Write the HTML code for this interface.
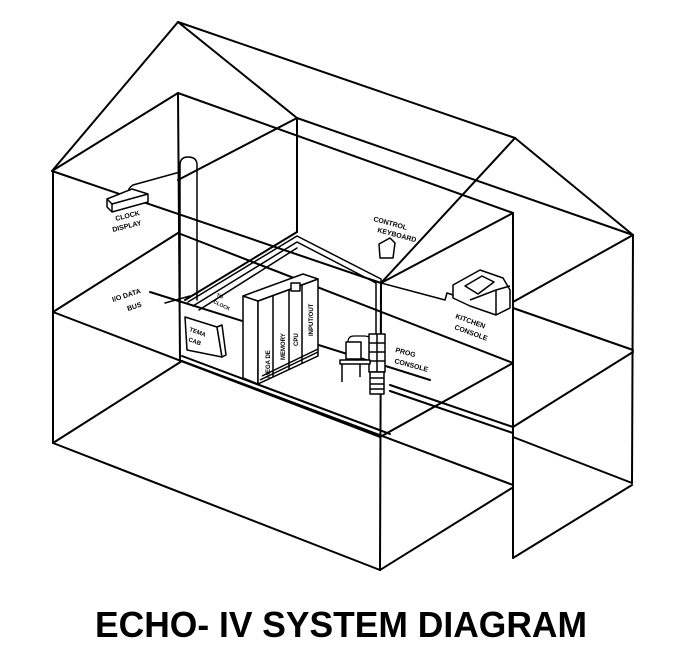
<!DOCTYPE html>
<html><head><meta charset="utf-8"><style>
html,body{margin:0;padding:0;background:#fff;}
svg{display:block;}
.h{font-family:"Liberation Sans",sans-serif;font-size:7px;font-weight:bold;fill:#000;}
</style></head><body>
<svg width="675" height="665" viewBox="0 0 675 665" xmlns="http://www.w3.org/2000/svg">
<g stroke="#000" stroke-width="2" fill="none" stroke-linecap="round" stroke-linejoin="round">
<!-- roof -->
<line x1="178" y1="22" x2="52" y2="171"/>
<line x1="178" y1="22" x2="297" y2="118"/>
<line x1="178" y1="22" x2="515" y2="138"/>
<line x1="515" y1="138" x2="633" y2="235"/>
<line x1="515" y1="138" x2="381" y2="283"/>
<line x1="52" y1="171" x2="381" y2="283"/>
<line x1="297" y1="118" x2="633" y2="235"/>
<line x1="52" y1="171" x2="178" y2="93"/>
<line x1="178" y1="93" x2="513" y2="213"/>
<line x1="513" y1="213" x2="381" y2="283"/>
<line x1="633" y1="235" x2="513" y2="302"/>
<line x1="297" y1="118" x2="178" y2="180"/>
<!-- verticals -->
<line x1="53" y1="171" x2="53" y2="443"/>
<line x1="178" y1="93" x2="180" y2="361"/>
<line x1="297" y1="118" x2="297" y2="232"/>
<line x1="381" y1="283" x2="380" y2="570"/>
<line x1="513" y1="213" x2="513" y2="558"/>
<line x1="633" y1="235" x2="632" y2="483"/>
<!-- mid floor -->
<line x1="53" y1="312" x2="380" y2="437"/>
<line x1="53" y1="312" x2="178" y2="233"/>
<line x1="178" y1="233" x2="513" y2="363"/>
<line x1="380" y1="437" x2="513" y2="363"/>
<line x1="513" y1="308" x2="633" y2="350"/>
<line x1="513" y1="427" x2="633" y2="352"/>
<line x1="390" y1="385" x2="513" y2="427"/>
<line x1="390" y1="391" x2="513" y2="433"/>
<!-- bottom -->
<line x1="53" y1="443" x2="182" y2="361"/>
<line x1="53" y1="443" x2="380" y2="570"/>
<line x1="182" y1="361" x2="513" y2="485"/>
<line x1="182" y1="356" x2="390" y2="434"/>
<line x1="380" y1="570" x2="512" y2="488"/>
<line x1="513" y1="437" x2="632" y2="483"/>
<line x1="513" y1="558" x2="632" y2="485"/>
<!-- room -->
<line x1="297" y1="232" x2="185" y2="300"/>
<line x1="150" y1="292" x2="430" y2="380"/>
<!-- ducts -->
<path d="M188 302 L297 236 L381 279 L381 345" stroke-width="1.5"/>
<path d="M193 306 L297 242 L376 283 L376 345" stroke-width="1.5"/>
<path d="M199 310 L297 248" stroke-width="1.5"/>
<path d="M180 300 L180 165 Q180 157 188 157 Q197 157 197 165 L197 300" stroke-width="1.5"/>
<path d="M180 172 L133 185 Q128 188 128 193" stroke-width="1.5"/>
<path d="M381 283 L445 300 L447 293 L456 296" stroke-width="1.5"/>
<path d="M165 303 L190 296" stroke-width="1.5"/>
<path d="M372 343 Q372 336 364 336 L354 336 Q348 336 348 342" stroke-width="1.2"/>
</g>
<g stroke="#000" stroke-width="1.5" fill="#fff" stroke-linejoin="round">
<!-- clock display -->
<polygon points="107,199 132,189 148,194 148,202 112,212 107,207"/>
<line x1="107" y1="199" x2="112" y2="204"/><line x1="112" y1="204" x2="112" y2="212"/><line x1="112" y1="204" x2="148" y2="194"/>
<!-- TTY cab -->
<polygon points="185,317 217,327 222,357 187,350"/>
<polygon points="217,327 222,325 226,355 222,357"/>
<!-- cabinets -->
<polygon points="243,296 258,301 258,384 243,378"/>
<polygon points="258,301 318,279 318,356 258,384"/>
<polygon points="243,296 303,274 318,279 258,301"/>
<line x1="273" y1="296" x2="273" y2="377"/>
<line x1="289" y1="290" x2="289" y2="370"/>
<line x1="302" y1="285" x2="302" y2="363"/>
<line x1="260" y1="380" x2="318" y2="352"/>
<line x1="262" y1="376" x2="318" y2="349"/>
<rect x="291" y="283" width="9" height="8"/>
<!-- keyboard -->
<polygon points="379,244 390,238 395,243 393,258 380,258"/>
<!-- kitchen console -->
<polygon points="453,285 480,270 503,278 510,290 510,308 496,315 470,306 453,298"/>
<polygon points="465,286 482,276 494,282 478,294"/>
<line x1="470" y1="300" x2="496" y2="290"/><line x1="496" y1="290" x2="496" y2="315"/><line x1="496" y1="290" x2="510" y2="286"/>
<!-- prog console -->
<rect x="346" y="342" width="15" height="17"/>
<rect x="369" y="334" width="16" height="38"/>
<line x1="369" y1="343" x2="385" y2="343"/><line x1="369" y1="352" x2="385" y2="352"/><line x1="369" y1="361" x2="385" y2="361"/><line x1="377" y1="334" x2="377" y2="372"/>
<polygon points="340,360 370,360 370,364 340,364"/>
<line x1="342" y1="364" x2="342" y2="382"/><line x1="360" y1="364" x2="360" y2="377"/>
<rect x="370" y="372" width="14" height="22"/>
<line x1="370" y1="378" x2="384" y2="378"/><line x1="370" y1="384" x2="384" y2="384"/><line x1="370" y1="389" x2="384" y2="389"/>
</g>
<g class="h">
<text x="116" y="221" transform="rotate(-14 116 221)">CLOCK</text>
<text x="113" y="232" transform="rotate(-14 113 232)">DISPLAY</text>
<text x="113" y="302" transform="rotate(-18 113 302)">I/O DATA</text>
<text x="128" y="311" transform="rotate(-18 128 311)">BUS</text>
<text x="216" y="296" font-size="5" transform="rotate(25 216 296)">TO</text>
<text x="213" y="303" font-size="5" transform="rotate(25 213 303)">CLOCK</text>
<text x="189" y="331" font-size="6" transform="rotate(20 189 331)">TEMA</text>
<text x="188" y="341" font-size="6" transform="rotate(20 188 341)">CAB</text>
<text x="270" y="378" font-size="6" transform="rotate(-90 270 378)">MEGA DE</text>
<text x="285" y="360" font-size="6" transform="rotate(-90 285 360)">MEMORY</text>
<text x="298" y="346" font-size="6" transform="rotate(-90 298 346)">CPU</text>
<text x="313" y="336" font-size="6" transform="rotate(-90 313 336)">INPUT/OUT</text>
<text x="373" y="221" transform="rotate(15 373 221)">CONTROL</text>
<text x="377" y="232" transform="rotate(15 377 232)">KEYBOARD</text>
<text x="455" y="318" transform="rotate(20 455 318)">KITCHEN</text>
<text x="454" y="329" transform="rotate(20 454 329)">CONSOLE</text>
<text x="395" y="352" transform="rotate(15 395 352)">PROG</text>
<text x="394" y="363" transform="rotate(15 394 363)">CONSOLE</text>
</g>
<text x="95" y="637" font-family="'Liberation Sans',sans-serif" font-weight="bold" font-size="36" textLength="492" lengthAdjust="spacingAndGlyphs">ECHO- IV SYSTEM DIAGRAM</text>
</svg>
</body></html>
